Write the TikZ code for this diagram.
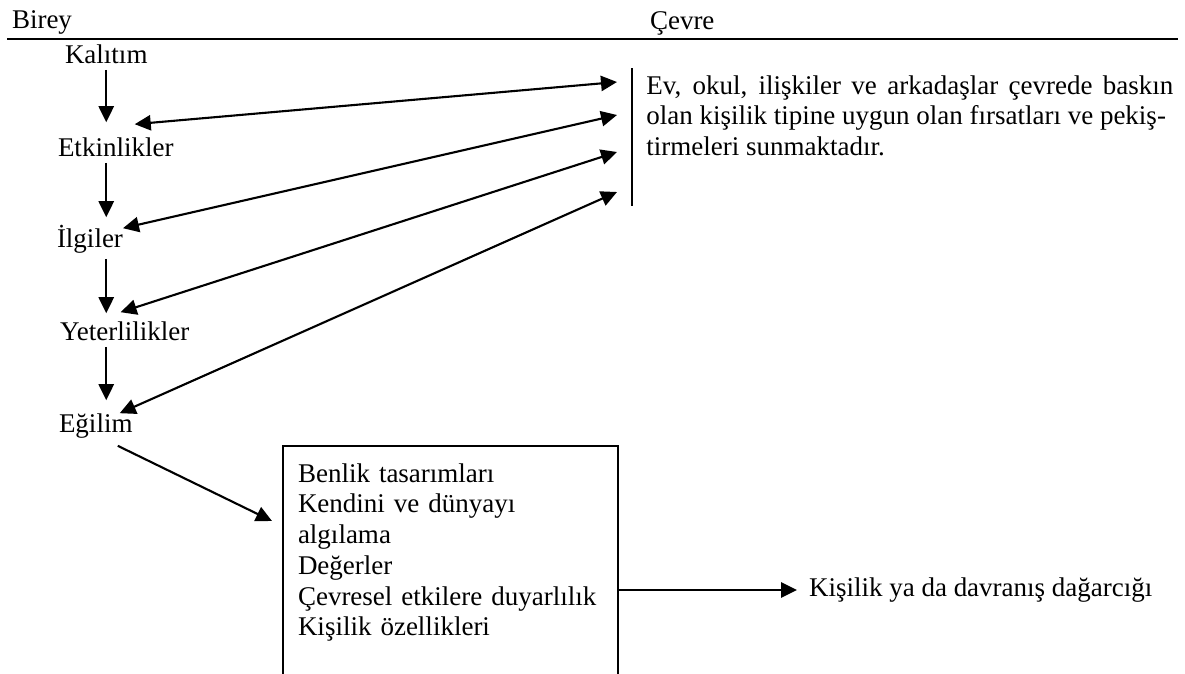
\documentclass[tikz,border=0pt]{standalone}
\usepackage{fontspec}
\setmainfont{Liberation Serif}
\usepackage{tikz}
\usetikzlibrary{arrows.meta}
\tikzset{% 
	thick_line/.style={line width=1.5pt}
}
\tikzset{% 
	one_way/.style={thick_line,-{Triangle[length=0.4cm,width=0.38cm]}},
	two_way/.style={thick_line,{Triangle[length=0.4cm,width=0.38cm]}-{Triangle[length=0.4cm,width=0.38cm]}}
}
\tikzset{% 
	term/.style={inner sep=0pt,outer sep=0pt,anchor=base west,text height=0.47cm,text depth=0.17cm}
}

\begin{document}
\begin{tikzpicture}[x=0.025cm,y=-0.025cm,font=\fontsize{19.2}{21.9}\selectfont]
		\path[use as bounding box,clip] (0,0) rectangle (1185,673);

		%Header
		\node[term] (birey) at (12,28) {Birey};
		\node[term] (cevre) at (650,29) {Çevre};
		\draw [thick_line] (7,39)--(1178,39);

		%Left column
		\node[term] (kalitim) at (65,63) {Kalıtım};
		\node[term] (etkinlik) at (58,156) {Etkinlikler};
		\node[term] (ilgiler) at (57,247) {İlgiler};
		\node[term] (yeterlilik) at (60,340) {Yeterlilikler};
		\node[term] (egilim) at (59,432) {Eğilim};

		\draw [one_way,shorten >=0.375cm] (kalitim)--(etkinlik.north -| kalitim);
		\draw [one_way,shorten >=0.275cm] (etkinlik.south -| kalitim)--(ilgiler.north -| kalitim);
		\draw [one_way,shorten <=0.125cm,shorten >=0.2cm] (ilgiler.south -| kalitim)--(yeterlilik.north -| kalitim);
		\draw [one_way,shorten >=0.325cm] (yeterlilik.south -| kalitim)--(egilim.north -| kalitim);

		%Environment
		\draw [thick_line] (632,68)--(632,206);
		\node[anchor=north west,inner sep=0pt,text height=0.47cm,text width=13.175cm,align=justify] (ortam) at (646,75)
			{Ev, okul, ilişkiler ve arkadaşlar çevrede baskın\linebreak olan kişilik tipine uygun olan fırsatları ve pekiş-\newline tirmeleri sunmaktadır.};

		\coordinate (c1) at (617,82);
		\coordinate (c2) at (617,115);
		\coordinate (c3) at (617,152);
		\coordinate (c4) at (617,192);

		\draw [two_way] ([shift={(19,-13)}]etkinlik.north)--(c1);
		\draw [two_way] (ilgiler.north east)--(c2);
		\draw [two_way] ([shift={(-4,-9)}]yeterlilik.north)--(c3);
		\draw [two_way] ([shift={(24,0)}]egilim.north)--(c4);

		%Box
		\node[draw,thick_line,anchor=north west,outer sep=0pt,inner xsep=0.375cm,inner ysep=0pt,text width=7.625cm,text height=0.9cm,text depth=6.5cm,align=left] (kutu) at (283,446)
			{Benlik tasarımları\\Kendini ve dünyayı\\algılama\\Değerler\\Çevresel etkilere duyarlılık\\Kişilik özellikleri};
		\node[term] (kisilik) at (809,596) {Kişilik ya da davranış dağarcığı};

		\draw [one_way] ([shift={(22,7)}]egilim.south)--([shift={(-11,75)}]kutu.north west);
		\draw [one_way] (kutu.east |- kisilik)--([xshift=-0.3cm]kisilik.west);

	\end{tikzpicture}
\end{document}
